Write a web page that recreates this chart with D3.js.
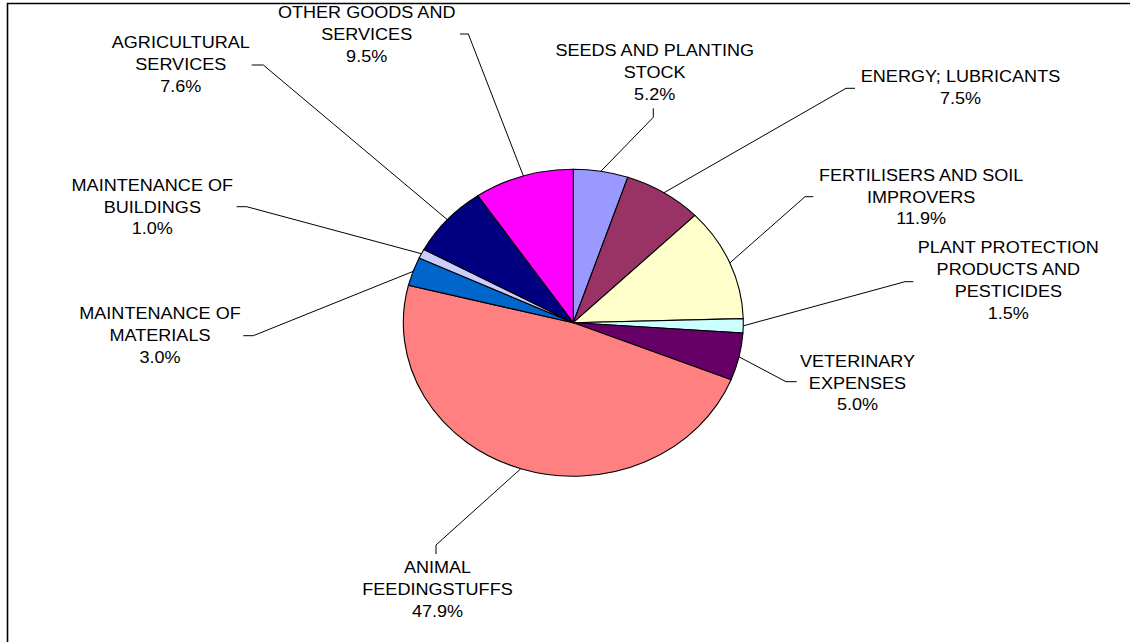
<!DOCTYPE html>
<html>
<head>
<meta charset="utf-8">
<script src="https://cdn.jsdelivr.net/npm/d3@7"></script>
<style>
  body { margin: 0; background: #fff; }
  text { font-family: "Liberation Sans", Arial, sans-serif; fill: #000; }
</style>
</head>
<body>
<div id="chart"></div>
<script>
// slices, clockwise from 12 o'clock
var categories = [
    ["SEEDS AND PLANTING", "STOCK"],
    ["ENERGY; LUBRICANTS"],
    ["FERTILISERS AND SOIL", "IMPROVERS"],
    ["PLANT PROTECTION", "PRODUCTS AND", "PESTICIDES"],
    ["VETERINARY", "EXPENSES"],
    ["ANIMAL", "FEEDINGSTUFFS"],
    ["MAINTENANCE OF", "MATERIALS"],
    ["MAINTENANCE OF", "BUILDINGS"],
    ["AGRICULTURAL", "SERVICES"],
    ["OTHER GOODS AND", "SERVICES"]
];
var shares = [5.2, 7.5, 11.9, 1.5, 5.0, 47.9, 3.0, 1.0, 7.6, 9.5];
var shareLabels = ["5.2%", "7.5%", "11.9%", "1.5%", "5.0%", "47.9%", "3.0%", "1.0%", "7.6%", "9.5%"];
var colors = ["#9999FF", "#993366", "#FFFFCC", "#CCFFFF", "#660066",
              "#FF8080", "#0066CC", "#CCCCFF", "#000080", "#FF00FF"];

// label layout: text centre x, first baseline y, leader start, leader elbow
var labelLayout = [
    [654.7, 56,    653.3, 108.3, 653.3, 117.3],
    [960.5, 81.7,  855,   88.3,  846,   88.3],
    [921.2, 180.7, 813.3, 196.7, 805,   196.7],
    [1008.3, 253.3, 913.3, 281.7, 905,  281.7],
    [857.5, 366.7, 796.7, 381.7, 786,   381.7],
    [437.5, 573.3, 436,   554,   436,   545],
    [160,   319.3, 243.3, 335.7, 253.3, 335.7],
    [152.3, 190.7, 236.7, 206.7, 246.7, 206.7],
    [180.8, 48.3,  251.7, 65,    263.3, 65],
    [366.7, 18.3,  460,   34,    468.3, 34]
];

var width = 1130, height = 642;
var cx = 573.3, cy = 322.7, rx = 170, ry = 153.5;
var lineGap = 21.8;

var svg = d3.select("#chart").append("svg")
    .attr("width", width)
    .attr("height", height);

// chart frame (cut off at right and bottom)
svg.append("path")
    .attr("d", "M7.5," + height + " V3.5 H" + width)
    .attr("fill", "none")
    .attr("stroke", "#000")
    .attr("stroke-width", 1.6);

var pie = d3.pie().sort(null).value(d => d);
var arcs = pie(shares);

var arc = d3.arc().innerRadius(0).outerRadius(rx);

svg.append("g")
    .attr("transform", "translate(" + cx + "," + cy + ") scale(1," + (ry / rx) + ")")
    .selectAll("path")
    .data(arcs)
    .enter()
    .append("path")
    .attr("d", arc)
    .attr("fill", (d, i) => colors[i])
    .attr("stroke", "#000")
    .attr("stroke-width", 1.1)
    .attr("vector-effect", "non-scaling-stroke");

// point on the elliptical rim at the slice's middle angle
function rimPoint(d) {
    var a = (d.startAngle + d.endAngle) / 2;
    return [cx + rx * Math.sin(a), cy - ry * Math.cos(a)];
}

// leader lines
svg.append("g")
    .selectAll("path")
    .data(arcs)
    .enter()
    .append("path")
    .attr("d", function (d, i) {
        var L = labelLayout[i], p = rimPoint(d);
        return "M" + L[2] + "," + L[3] + " L" + L[4] + "," + L[5] + " L" + p[0] + "," + p[1];
    })
    .attr("fill", "none")
    .attr("stroke", "#000")
    .attr("stroke-width", 1);

// labels
var labels = svg.append("g")
    .selectAll("g")
    .data(arcs)
    .enter()
    .append("g");

labels.each(function (d, i) {
    var g = d3.select(this);
    var lines = categories[i].concat([shareLabels[i]]);
    var L = labelLayout[i];
    lines.forEach(function (t, j) {
        g.append("text")
            .attr("transform", "translate(" + L[0] + "," + (L[1] + j * lineGap) + ") scale(1.05,1)")
            .attr("text-anchor", "middle")
            .style("font-size", "17.2px")
            .text(t);
    });
});
</script>
</body>
</html>
